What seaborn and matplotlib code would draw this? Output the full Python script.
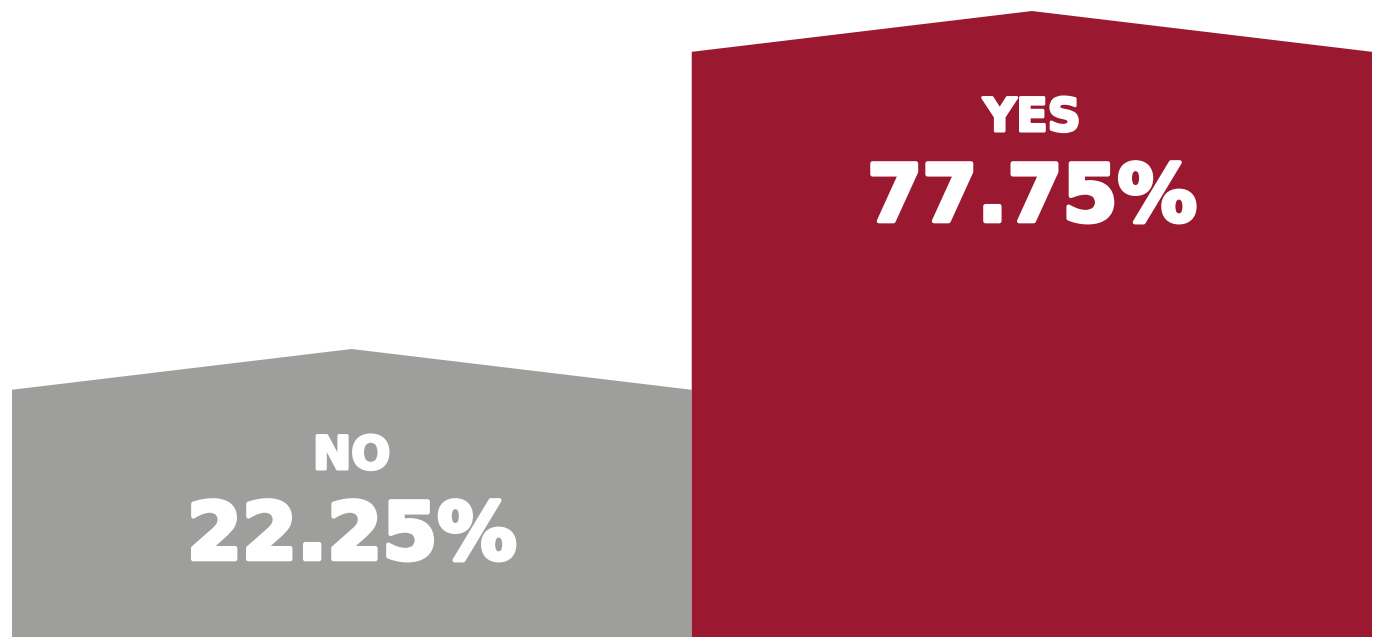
import matplotlib
matplotlib.use("Agg")
import matplotlib.pyplot as plt
from matplotlib.patches import Polygon
import matplotlib.patheffects as pe
import seaborn as sns
import pandas as pd

categories = ["NO", "YES"]
values = [22.25, 77.75]
colors = ["#9e9e9d", "#9a1830"]

df = pd.DataFrame({"answer": categories, "pct": values})

sns.set_theme(style="white")
plt.rcParams["font.family"] = ["DejaVu Sans"]

fig = plt.figure(figsize=(13.78, 6.37), dpi=100)
ax = fig.add_axes([11.5 / 1378, 0, 1360.5 / 1378, 1])
sns.barplot(data=df, x="answer", y="pct", hue="answer", palette=colors,
            width=1.0, legend=False, ax=ax, saturation=1)

ymin, ymax = -25.04, 79.56
ax.set_xlim(-0.5, 1.5)
ax.set_ylim(ymin, ymax)

shoulder = 6.7
for patch in list(ax.patches):
    x0 = patch.get_x()
    w = patch.get_width()
    h = patch.get_height()
    fc = patch.get_facecolor()
    patch.remove()
    poly = Polygon([(x0, ymin), (x0, h - shoulder), (x0 + w / 2, h),
                    (x0 + w, h - shoulder), (x0 + w, ymin)],
                   closed=True, facecolor=fc, edgecolor="none")
    ax.add_patch(poly)
    xc = x0 + w / 2
    lab = categories[int(round(xc))]
    ax.text(xc, h - 19.7, lab, ha="center", va="baseline", color="white",
            fontsize=33, fontweight="bold",
            path_effects=[pe.withStroke(linewidth=2.2, foreground="white")])
    ax.text(xc, h - 34.5, f"{h:.2f}%", ha="center", va="baseline",
            color="white", fontsize=57, fontweight="bold",
            path_effects=[pe.withStroke(linewidth=3.2, foreground="white")])

ax.set_axis_off()
fig.savefig("out.png", dpi=100)
